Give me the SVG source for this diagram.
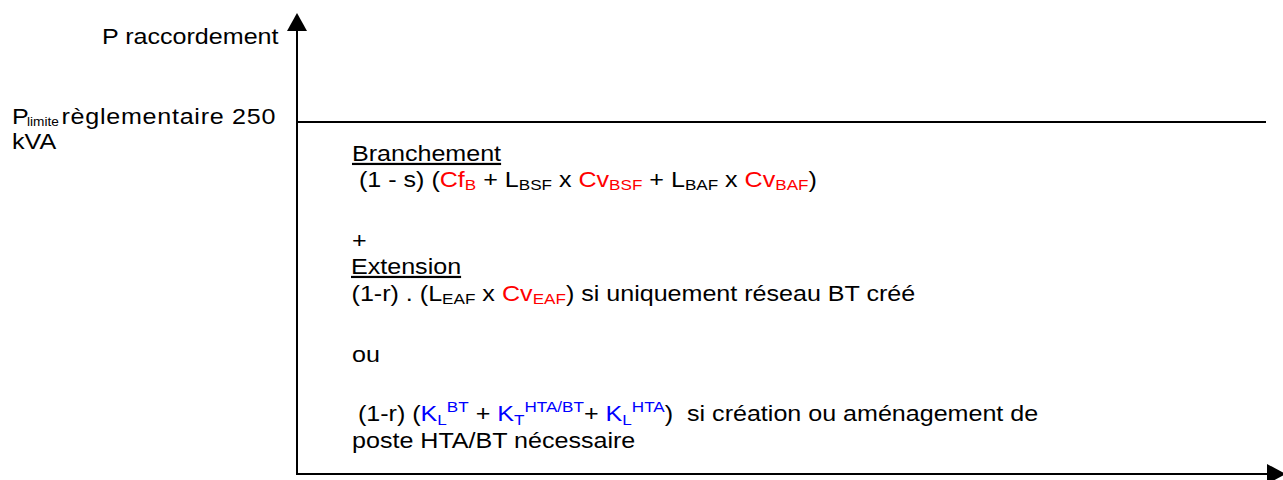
<svg xmlns="http://www.w3.org/2000/svg" width="1283" height="480" viewBox="0 0 1283 480">
<style>
text{font-family:"Liberation Sans",Arial,sans-serif;font-size:22px;fill:#000}
.r{fill:#ff0000}
.b{fill:#0000ff}
.s{font-size:15px}
.u{text-decoration:underline}
.ax{stroke:#000;stroke-width:2;fill:none}
</style>
<rect width="1283" height="480" fill="#fff"/>
<g id="axes">
<line class="ax" x1="297" y1="475" x2="297" y2="28"/>
<polygon points="297,13 287,31 307,31" fill="#000"/>
<line class="ax" x1="296" y1="474" x2="1270" y2="474"/>
<polygon points="1267,464 1286,474 1267,484" fill="#000"/>
<line class="ax" x1="297" y1="122" x2="1266" y2="122"/>
</g>
<g id="labels" transform="scale(1.14 1)">
<text x="89.47" y="44">P raccordement</text>
<text x="10.53" y="124">P<tspan x="23.68" y="126.5" font-size="12">limite</tspan><tspan x="53.95" y="124" letter-spacing="0.65">règlementaire 250</tspan></text>
<text x="10.53" y="149">kVA</text>
<text class="u" x="308.77" y="161">Branchement</text>
<text x="314.9" y="187">(1 - s) (<tspan class="r">Cf</tspan><tspan class="r s" y="190">B</tspan><tspan y="187"> + L</tspan><tspan class="s" y="190">BSF</tspan><tspan y="187"> x </tspan><tspan class="r">Cv</tspan><tspan class="r s" y="190">BSF</tspan><tspan y="187"> + L</tspan><tspan class="s" y="190">BAF</tspan><tspan y="187"> x </tspan><tspan class="r">Cv</tspan><tspan class="r s" y="190">BAF</tspan><tspan y="187">)</tspan></text>
<text x="308.8" y="248">+</text>
<text class="u" x="307.9" y="274">Extension</text>
<text x="308.4" y="301">(1-r) . (L<tspan class="s" y="304">EAF</tspan><tspan y="301"> x </tspan><tspan class="r" x="440.35">Cv</tspan><tspan class="r s" y="304">EAF</tspan><tspan y="301">) si uniquement réseau BT créé</tspan></text>
<text x="308.8" y="362">ou</text>
<text x="314" y="421" xml:space="preserve">(1-r) (<tspan class="b">K</tspan><tspan class="b s" y="425">L</tspan><tspan class="b s" y="412">BT</tspan><tspan y="421"> + </tspan><tspan class="b">K</tspan><tspan class="b s" y="425">T</tspan><tspan class="b s" y="412">HTA/BT</tspan><tspan y="421">+ </tspan><tspan class="b">K</tspan><tspan class="b s" y="425">L</tspan><tspan class="b s" y="412">HTA</tspan><tspan y="421">)  si création ou aménagement de</tspan></text>
<text x="308.8" y="448">poste HTA/BT nécessaire</text>
</g>
</svg>
